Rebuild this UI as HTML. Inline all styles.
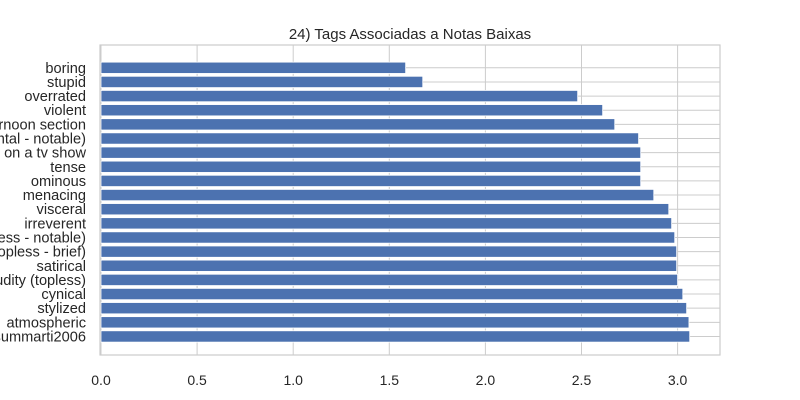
<!DOCTYPE html>
<html><head><meta charset="utf-8"><style>
html,body{margin:0;padding:0;background:#fff;}
svg{display:block;font-family:"Liberation Sans","DejaVu Sans",sans-serif;}
</style></head><body>
<svg id="chart" width="800" height="400" viewBox="0 0 800 400"></svg>
<script>
const categories = ["boring","stupid","overrated","violent","afternoon section","nudity (frontal - notable)","based on a tv show","tense","ominous","menacing","visceral","irreverent","nudity (topless - notable)","nudity (topless - brief)","satirical","nudity (topless)","cynical","stylized","atmospheric","summarti2006"];
const values = [1.585,1.674,2.48,2.61,2.673,2.797,2.808,2.808,2.808,2.876,2.954,2.969,2.985,2.995,2.995,3.0,3.027,3.047,3.059,3.063];
const xTicks = [0,0.5,1,1.5,2,2.5,3];
const xTickLabels = ["0.0","0.5","1.0","1.5","2.0","2.5","3.0"];

const NS="http://www.w3.org/2000/svg";
const svg=document.getElementById('chart');
const L=100,R=720,T=45,B=355;
const x0=101, xs=192.2;
function X(v){return x0+v*xs;}
const n=categories.length;
const y0=67.8, step=14.14;
function Y(i){return y0+i*step;}
function mk(tag,attrs){const e=document.createElementNS(NS,tag);for(const k in attrs)e.setAttribute(k,attrs[k]);svg.appendChild(e);return e;}

xTicks.forEach((t,i)=>{
  const g=mk('line',{x1:X(t),x2:X(t),y1:T,y2:B,stroke:'#cccccc','stroke-width':1});
  
  
  const tx=mk('text',{x:X(t),y:B+30,'text-anchor':'middle','font-size':14,fill:'#262626'});
  tx.textContent=xTickLabels[i];
  
  
});
categories.forEach((c,i)=>{
  const g=mk('line',{x1:L,x2:R,y1:Y(i),y2:Y(i),stroke:'#cccccc','stroke-width':1});
  
  
});
categories.forEach((c,i)=>{
  const h=step*0.8;
  const r=mk('rect',{x:X(0),y:Y(i)-h/2,width:X(values[i])-X(0),height:h,fill:'#4c72b0',stroke:'#ffffff','stroke-width':0.8});
  
  
  const t=mk('text',{x:86,y:Y(i)+5,'text-anchor':'end','font-size':14.6,fill:'#262626'});
  t.textContent=c;
  
  
});
const fr=mk('rect',{x:L,y:T,width:R-L,height:B-T,fill:'none',stroke:'#cccccc','stroke-width':1.2});


const title=mk('text',{x:(L+R)/2,y:39,'text-anchor':'middle','font-size':15,fill:'#262626'});
title.textContent='24) Tags Associadas a Notas Baixas';


</script>
</body></html>
